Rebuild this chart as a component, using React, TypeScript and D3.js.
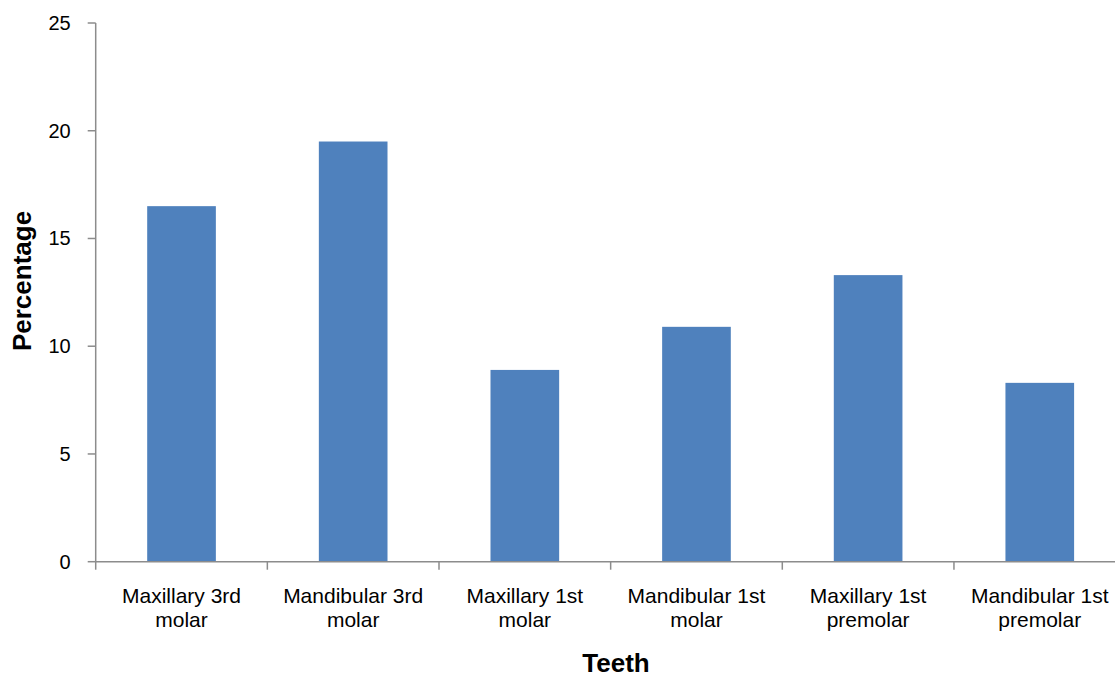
import React from "react";
import * as d3 from "d3";

const categories: string[][] = [
  ["Maxillary 3rd", "molar"],
  ["Mandibular 3rd", "molar"],
  ["Maxillary 1st", "molar"],
  ["Mandibular 1st", "molar"],
  ["Maxillary 1st", "premolar"],
  ["Mandibular 1st", "premolar"],
];
const values: number[] = [16.5, 19.5, 8.9, 10.9, 13.3, 8.3];
const yTicks: number[] = [0, 5, 10, 15, 20, 25];

const W = 1115;
const H = 673;
const left = 95.7;
const right = 1125.6;
const top = 23;
const bottom = 561.7;
const axisColor = "#8c8c8c";
const font = "'Liberation Sans', Arial, sans-serif";

export default function App() {
  const ids = categories.map((_, i) => String(i));
  const x = d3.scaleBand<string>().domain(ids).range([left, right]).paddingInner(0.6).paddingOuter(0.3);
  const y = d3.scaleLinear().domain([0, 25]).range([bottom, top]);
  const step = (right - left) / categories.length;

  return (
    <svg width={W} height={H} style={{ position: "absolute", left: 0, top: 0, background: "#fff" }}>
      {values.map((v, i) => (
        <rect key={i} x={x(String(i))} y={y(v)} width={x.bandwidth()} height={y(0) - y(v)} fill="#4F81BD" />
      ))}
      <line x1={left} x2={left} y1={top} y2={bottom} stroke={axisColor} strokeWidth={1.5} />
      <line x1={left} x2={W} y1={bottom} y2={bottom} stroke={axisColor} strokeWidth={1.5} />
      {yTicks.map((t) => (
        <g key={t}>
          <line x1={left - 8} x2={left} y1={y(t)} y2={y(t)} stroke={axisColor} strokeWidth={1.5} />
          <text x={left - 25} y={y(t)} dy="0.35em" textAnchor="end" fontFamily={font} fontSize={20} fill="#000">
            {t}
          </text>
        </g>
      ))}
      {d3.range(categories.length + 1).map((i) => (
        <line key={i} x1={left + i * step} x2={left + i * step} y1={bottom} y2={bottom + 8} stroke={axisColor} strokeWidth={1.5} />
      ))}
      {categories.map((lines, i) => (
        <text key={i} textAnchor="middle" fontFamily={font} fontSize={21} fill="#000">
          {lines.map((l, j) => (
            <tspan key={j} x={(x(String(i)) as number) + x.bandwidth() / 2} y={603 + j * 24}>
              {l}
            </tspan>
          ))}
        </text>
      ))}
      <text x={616} y={672} textAnchor="middle" fontFamily={font} fontSize={26} fontWeight="bold" fill="#000">
        Teeth
      </text>
      <text
        transform={`translate(31, 281) rotate(-90)`}
        textAnchor="middle"
        fontFamily={font}
        fontSize={26}
        fontWeight="bold"
        fill="#000"
      >
        Percentage
      </text>
    </svg>
  );
}
